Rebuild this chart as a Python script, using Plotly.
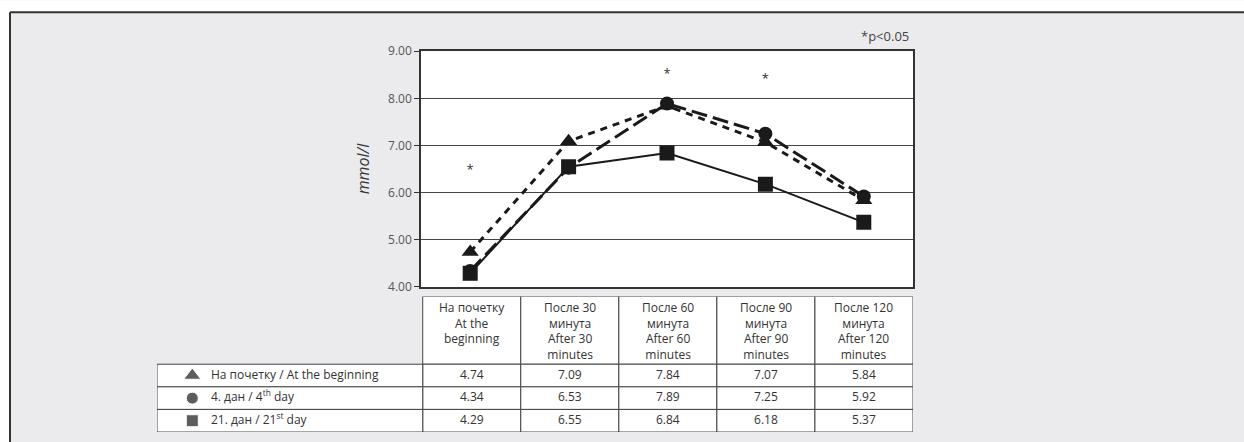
import plotly.graph_objects as go

# ---- data ----
categories = ["На почетку\nAt the\nbeginning",
              "После 30\nминута\nAfter 30\nminutes",
              "После 60\nминута\nAfter 60\nminutes",
              "После 90\nминута\nAfter 90\nminutes",
              "После 120\nминута\nAfter 120\nminutes"]
series_names = ["На почетку / At the beginning",
                "4. дан / 4<sup>th</sup> day",
                "21. дан / 21<sup>st</sup> day"]
beginning = [4.74, 7.09, 7.84, 7.07, 5.84]
day4 = [4.34, 6.53, 7.89, 7.25, 5.92]
day21 = [4.29, 6.55, 6.84, 6.18, 5.37]
sig_idx = [0, 2, 3]
sig_y = [6.46, 8.51, 8.39]
y_ticks = [4, 5, 6, 7, 8, 9]

# ---- layout helpers (target pixel positions on the 1244x442 picture) ----
W, H = 1244, 450
def px(x):
    return x / W
def py(y):
    fy = y * 458.0 / 442.0 - 8.0
    return 1 - fy / H

FONT = "Open Sans"
TXT = "#333"
LINE = "#444"

ncat = len(categories)
nser = 3
xs = list(range(ncat))
series = [beginning, day4, day21]
symbols = ["triangle-up", "circle", "square"]
sizes = [15, 14, 15]
leg_sizes = [15, 12, 12]
dashes = ["7px,6px", "16px,6px", "solid"]
widths = [3, 3, 2]

LEG_W = 2.71          # legend column width in table column units
HEAD_ROWS = 3         # header row height in data-row units

fig = go.Figure()

# ---- lines ----
for vals, sym, sz, dsh, lw, nm in zip(series, symbols, sizes, dashes, widths, series_names):
    fig.add_trace(go.Scatter(
        x=xs, y=vals, mode="lines+markers", name=nm,
        line=dict(color="#1a1a1a", width=lw, dash=dsh),
        marker=dict(symbol=sym, size=sz, color="#1a1a1a"),
        showlegend=False, hoverinfo="skip"))

fig.add_trace(go.Scatter(
    x=sig_idx, y=sig_y, mode="text", text=["*"] * len(sig_idx),
    textfont=dict(family=FONT, size=13, color=TXT),
    showlegend=False, hoverinfo="skip"))

# ---- table on its own axes ----
rows = list(range(nser))
for r, vals in enumerate(series):
    fig.add_trace(go.Scatter(
        x=xs, y=[r] * ncat, mode="text", text=["%.2f" % v for v in vals],
        textfont=dict(family=FONT, size=12, color=TXT),
        xaxis="x2", yaxis="y2", showlegend=False, hoverinfo="skip", cliponaxis=False))

leg_x0 = -0.5 - LEG_W
fig.add_trace(go.Scatter(
    x=[leg_x0 + 0.36] * nser, y=rows, mode="markers",
    marker=dict(symbol=symbols, size=leg_sizes, color="#1a1a1a"),
    xaxis="x2", yaxis="y2", showlegend=False, hoverinfo="skip", cliponaxis=False))
fig.add_trace(go.Scatter(
    x=[leg_x0 + 0.55] * nser, y=rows, mode="text", text=series_names,
    textposition="middle right",
    textfont=dict(family=FONT, size=12, color=TXT),
    xaxis="x2", yaxis="y2", showlegend=False, hoverinfo="skip", cliponaxis=False))

shapes = [
    # page frame
    dict(type="rect", xref="paper", yref="paper", x0=0, x1=1, y0=py(11), y1=1.02,
         fillcolor="white", line=dict(width=0), layer="below"),
    dict(type="rect", xref="paper", yref="paper", x0=0, x1=px(10), y0=0, y1=1,
         fillcolor="white", line=dict(width=0), layer="below"),
    dict(type="line", xref="paper", yref="paper", x0=px(10), x1=1, y0=py(11), y1=py(11),
         line=dict(color="#333", width=2)),
    dict(type="line", xref="paper", yref="paper", x0=px(10), x1=px(10), y0=0, y1=py(11),
         line=dict(color="#333", width=2)),
    # white plotting area
    dict(type="rect", xref="x domain", yref="y domain", x0=0, x1=1, y0=0, y1=1,
         fillcolor="white", line=dict(width=0), layer="below"),
]
cell = dict(type="rect", xref="x2", yref="y2", fillcolor="white",
            line=dict(color=LINE, width=1), layer="below")
for i in xs:
    shapes.append(dict(cell, x0=i - 0.5, x1=i + 0.5, y0=-0.5 - HEAD_ROWS, y1=-0.5))
    for r in rows:
        shapes.append(dict(cell, x0=i - 0.5, x1=i + 0.5, y0=r - 0.5, y1=r + 0.5))
for r in rows:
    shapes.append(dict(cell, x0=leg_x0, x1=-0.5, y0=r - 0.5, y1=r + 0.5))

annotations = [dict(text="*p<0.05", xref="paper", yref="paper", x=px(911), y=py(35),
                    xanchor="right", yanchor="middle", showarrow=False,
                    font=dict(family=FONT, size=13, color="#444"))]
for i, c in enumerate(categories):
    annotations.append(dict(text=c.replace("\n", "<br>"), xref="x2", yref="y2",
                            x=i, y=-0.5 - HEAD_ROWS, xanchor="center", yanchor="top",
                            yshift=-1, showarrow=False,
                            font=dict(family=FONT, size=12, color=TXT)))

fig.update_layout(
    width=W, height=H,
    margin=dict(l=0, r=0, t=0, b=0),
    paper_bgcolor="#ebebed", plot_bgcolor="rgba(0,0,0,0)",
    font=dict(family=FONT, size=12, color="#444"),
    xaxis=dict(domain=[px(421), px(913)], range=[-0.5, ncat - 0.5],
               showticklabels=False, showgrid=False, zeroline=False,
               showline=True, linecolor="#333", linewidth=1.5, mirror=True, ticks=""),
    yaxis=dict(domain=[py(286.5), py(50)], range=[4, 9],
               tickvals=y_ticks, tickformat=".2f",
               showgrid=True, gridcolor="#444", gridwidth=1,
               zeroline=False, showline=True, linecolor="#333", linewidth=1.5,
               mirror=True, ticks="outside", ticklen=5, tickcolor="#333",
               tickfont=dict(family=FONT, size=12, color="#555"),
               title=dict(text="<i>mmol/l</i>", standoff=14,
                          font=dict(family=FONT, size=16, color="#333"))),
    xaxis2=dict(domain=[px(157), px(913)], range=[leg_x0, ncat - 0.5],
                visible=False, anchor="y2"),
    yaxis2=dict(domain=[py(432), py(296)], range=[nser - 0.5, -0.5 - HEAD_ROWS],
                visible=False, anchor="x2"),
    shapes=shapes,
    annotations=annotations,
)

post = ("document.documentElement.style.margin='0';document.documentElement.style.padding='0';"
        "document.documentElement.style.overflow='hidden';"
        "document.body.style.margin='0';document.body.style.padding='0';"
        "document.body.style.overflow='hidden';"
        "var d=document.getElementById('{plot_id}');d.style.position='fixed';"
        "d.style.top='0px';d.style.left='0px';")
fig.write_html("out.html", config={"displayModeBar": False}, post_script=post)
